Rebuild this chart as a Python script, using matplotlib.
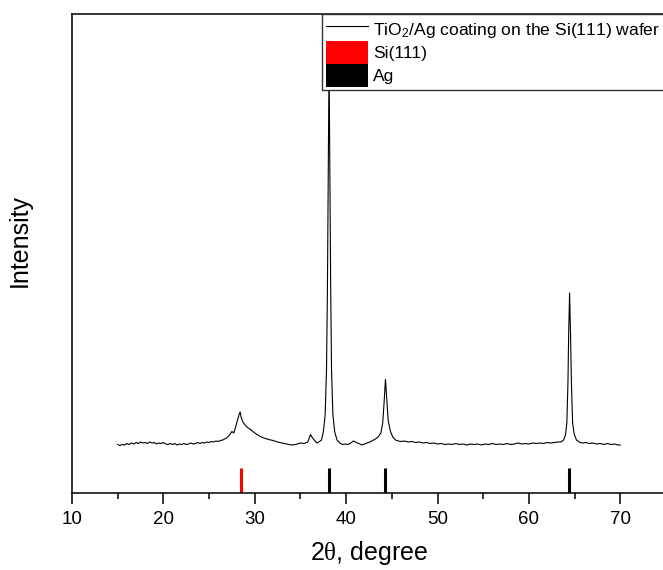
import matplotlib
matplotlib.use('Agg')
import matplotlib.pyplot as plt
from matplotlib.lines import Line2D
from matplotlib.patches import Patch
import numpy as np

plt.rcParams['font.family'] = ['Liberation Sans', 'DejaVu Sans']
plt.rcParams['mathtext.fontset'] = 'custom'
plt.rcParams['mathtext.rm'] = 'Liberation Sans'
plt.rcParams['mathtext.it'] = 'Liberation Serif'

# XRD pattern (2theta in degrees, intensity in a.u.)
two_theta = [
    15.0, 15.25, 15.5, 15.75, 16.0, 16.25, 16.5, 16.75, 17.0, 17.25, 17.5, 17.75,
    18.0, 18.25, 18.5, 18.75, 19.0, 19.25, 19.5, 19.75, 20.0, 20.25, 20.5, 20.75,
    21.0, 21.25, 21.5, 21.75, 22.0, 22.25, 22.5, 22.75, 23.0, 23.25, 23.5, 23.75,
    24.0, 24.25, 24.5, 24.75, 25.0, 25.25, 25.5, 25.75, 26.0, 26.25, 26.5,
    26.9, 27.2, 27.5, 27.7, 27.9, 28.1, 28.3, 28.4, 28.5, 28.7, 28.9, 29.2, 29.6,
    30.0, 30.5, 31.0, 31.5, 32.0, 32.5, 33.0, 33.5, 34.0, 34.5, 35.0, 35.4, 35.8,
    36.0, 36.1, 36.25, 36.5, 36.8, 37.0,
    37.3, 37.5, 37.7, 37.85, 37.95, 38.05, 38.13, 38.2, 38.3, 38.4, 38.55, 38.75,
    39.0, 39.3,
    39.6, 39.9, 40.2, 40.5, 40.8, 41.1, 41.4, 41.7, 42.0, 42.3, 42.6, 42.9, 43.2,
    43.5, 43.8, 44.0, 44.15, 44.3, 44.45, 44.6, 44.85, 45.1, 45.4,
    45.7, 46.0, 46.4, 46.8, 47.2, 47.6, 48.0, 48.4, 48.8, 49.2, 49.6, 50.0, 50.4,
    50.8, 51.2, 51.6, 52.0, 52.4, 52.8, 53.2, 53.6, 54.0, 54.4, 54.8, 55.2, 55.6,
    56.0, 56.4, 56.8, 57.2, 57.6, 58.0, 58.4, 58.8, 59.2, 59.6, 60.0, 60.4, 60.8,
    61.2, 61.6, 62.0, 62.4, 62.8, 63.2,
    63.5, 63.8, 64.0, 64.15, 64.27, 64.35, 64.45, 64.55, 64.65, 64.78, 64.95,
    65.2, 65.6,
    65.9, 66.2, 66.6, 67.0, 67.4, 67.8, 68.2, 68.6, 69.0, 69.4, 69.7, 70.0,
]
intensity = [
    97, 95, 97, 96, 99, 97, 100, 98, 101, 99, 102, 100,
    101, 99, 102, 100, 101, 98, 100, 99, 101, 98, 97, 99,
    97, 99, 96, 98, 97, 99, 97, 98, 100, 98, 99, 101,
    99, 101, 100, 102, 101, 103, 102, 104, 103, 105, 106,
    110, 115, 123, 120, 132, 145, 158, 162, 152, 142, 137, 131, 126,
    120, 114, 110, 107, 105, 102, 100, 98, 96, 97, 100, 99, 102,
    112, 117, 112, 106, 100, 102,
    106, 122, 156, 246, 406, 666, 866, 686, 426, 246, 156, 122,
    106, 100,
    97, 98, 97, 100, 104, 101, 99, 96, 98, 100, 102, 105, 108,
    112, 120, 140, 180, 227, 185, 145, 123, 112, 106,
    104, 103, 104, 102, 103, 101, 102, 100, 101, 99, 100, 98, 99,
    97, 98, 97, 99, 97, 98, 96, 98, 97, 98, 96, 98, 97,
    99, 97, 98, 97, 99, 97, 98, 100, 98, 99, 98, 100, 99,
    100, 99, 101, 100, 101, 102,
    102, 106, 116, 140, 220, 320, 400, 320, 220, 140, 118,
    106, 101,
    100, 101, 99, 100, 98, 99, 97, 99, 97, 98, 96, 96,
]

# reference stick positions
si_pos = [28.44]
ag_pos = [38.12, 44.28, 64.43]
stick_height = 50

fig = plt.figure(figsize=(6.63, 5.70), dpi=100)
# right spine sits just past the right edge of the picture
ax = fig.add_axes([72 / 663, 77 / 570, 594 / 663, 479 / 570])

ax.plot(two_theta, intensity, color='k', lw=0.8)
ax.vlines(si_pos, 0, stick_height, color='#ff0000', lw=2.2)
ax.vlines(ag_pos, 0, stick_height, color='k', lw=2.2)

ax.set_xlim(10, 75)
ax.set_ylim(0, 958)
ax.set_xticks(np.arange(10, 71, 10))
ax.set_xticks(np.arange(15, 70, 10), minor=True)
ax.set_yticks([])
ax.tick_params(axis='x', which='major', direction='out', length=8, width=1.1,
               labelsize=13.5, pad=5, top=False)
ax.tick_params(axis='x', which='minor', direction='out', length=4, width=1.1,
               top=False)
for sp in ax.spines.values():
    sp.set_linewidth(1.1)

ax.set_xlabel(r'2$\theta$, degree', fontsize=18, labelpad=8)
ax.set_ylabel('Intensity', fontsize=18)
ax.yaxis.set_label_coords(-0.067, 0.528)

handles = [
    Line2D([], [], color='k', lw=0.8),
    Patch(facecolor='#ff0000', edgecolor='none'),
    Patch(facecolor='k', edgecolor='none'),
]
labels = ['TiO$_2$/Ag coating on the Si(111) wafer', 'Si(111)', 'Ag']
leg = fig.legend(
    handles, labels,
    loc='upper left',
    bbox_to_anchor=(322 / 663, 1 - 14 / 570),
    bbox_transform=fig.transFigure,
    borderaxespad=0,
    fontsize=12.6,
    frameon=True,
    fancybox=False,
    framealpha=1,
    edgecolor='#333333',
    borderpad=0.2,
    labelspacing=0,
    handlelength=2.4,
    handleheight=1.65,
    handletextpad=0.3,
)
leg.get_frame().set_linewidth(1.0)

fig.savefig('out.png', dpi=100)
